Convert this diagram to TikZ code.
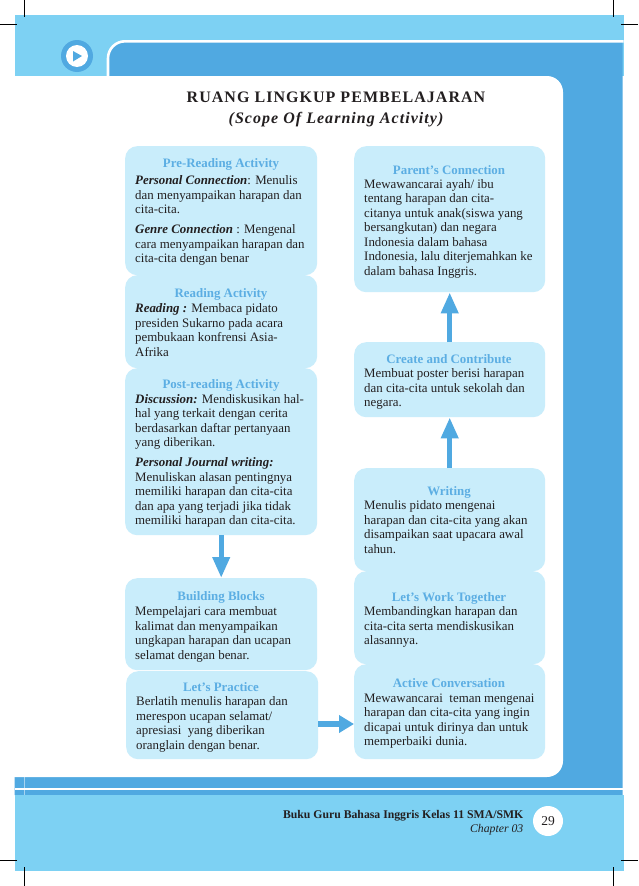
\documentclass[tikz,border=0pt]{standalone}
\usepackage{fontspec}
\setmainfont{Liberation Serif}
\usetikzlibrary{arrows.meta}
\definecolor{bandlight}{HTML}{7DD1F3}
\definecolor{bandblue}{HTML}{50A9E1}
\definecolor{boxfill}{HTML}{C9EDFB}
\definecolor{headblue}{HTML}{5CAEE3}
\definecolor{inktext}{HTML}{231F20}
\tikzset{
  x=1pt,y=-1pt,
  card/.style={fill=boxfill,rounded corners=12pt,inner sep=0pt,anchor=north west},
  head/.style={text=headblue,font=\fontsize{12.9}{15}\selectfont\bfseries,anchor=base,inner sep=0pt},
  body/.style={text=inktext,font=\fontsize{12.9}{14.5}\selectfont,anchor=north west,align=left,inner sep=0pt},
  flow/.style={draw=bandblue,line width=5.3pt,-{Triangle[length=21pt,width=16.5pt]}},
  flowshort/.style={draw=bandblue,line width=5.3pt,-{Triangle[length=15pt,width=17pt]}},
  crop/.style={draw=black,line width=0.6pt}
}
\begin{document}
\begin{tikzpicture}
\useasboundingbox (0,0) rectangle (638,886);
\fill[white] (0,0) rectangle (638,886);
% bands
\fill[bandlight] (14.5,14.5) rectangle (623.5,76);
\fill[bandblue] (108,76) [rounded corners=17pt] -- (108,41.5) [sharp corners] -- (622.5,41.5) -- (622.5,795) -- (14.5,795) -- (14.5,776.5) -- (108,776.5) -- cycle;
\draw[white,line width=2.6pt] (108,76) [rounded corners=17pt] -- (108,41.3) [sharp corners] -- (623.5,41.3);
\fill[white] (0,76) [rounded corners=16pt] -- (563,76) -- (563,777) [sharp corners] -- (0,777) -- cycle;
\fill[bandlight] (14.5,795) rectangle (623.5,870.7);
\fill[white] (14.5,787.8) rectangle (622.5,789.8);
\fill[white,opacity=.5] (24.2,777) rectangle (25,795);
% crop marks
\draw[crop] (24.5,0) -- (24.5,16.5);
\draw[crop] (0,24.3) -- (17,24.3);
\draw[crop] (613.3,0) -- (613.3,17);
\draw[crop] (621,24.3) -- (638,24.3);
\draw[crop] (0,860) -- (17,860);
\draw[crop] (24.5,867) -- (24.5,886);
\draw[crop] (621,860) -- (638,860);
\draw[crop] (613.3,867) -- (613.3,886);
% play badge
\node[circle,fill=bandblue,minimum size=32pt,inner sep=0pt] (badge) at (77,56) {};
\node[circle,fill=white,minimum size=22pt,inner sep=0pt] (badgein) at (77,56) {};
\fill[bandblue] (73,51) -- (82,56) -- (73,61.5) -- cycle;
% title
\node[anchor=base,inner sep=0pt,text=inktext,font=\fontsize{16}{18}\selectfont\bfseries\addfontfeature{LetterSpace=6.5}] (title) at (336,102.5) {RUANG LINGKUP PEMBELAJARAN};
\node[anchor=base,inner sep=0pt,text=inktext,font=\fontsize{16}{18}\selectfont\bfseries\itshape\addfontfeature{LetterSpace=6.5}] (subtitle) at (336,123.5) {(Scope Of Learning Activity)};
% left cards
\node[card,minimum width=192pt,minimum height=129pt] (pre) at (125,146) {};
\node[card,minimum width=192pt,minimum height=93pt] (read) at (125,275) {};
\node[card,minimum width=192pt,minimum height=167pt] (post) at (125,368) {};
\node[card,minimum width=192pt,minimum height=92pt] (build) at (125,578) {};
\node[card,minimum width=192pt,minimum height=88pt] (prac) at (126,671) {};
% right cards
\node[card,minimum width=191pt,minimum height=146pt] (parent) at (354,146) {};
\node[card,minimum width=191pt,minimum height=75pt] (create) at (354,342) {};
\node[card,minimum width=191pt,minimum height=103pt] (writing) at (354,468) {};
\node[card,minimum width=191pt,minimum height=93pt] (work) at (354,571) {};
\node[card,minimum width=191pt,minimum height=95pt] (active) at (354,664) {};
% headings
\node[head] (h1) at (221,167) {Pre-Reading Activity};
\node[head] (h2) at (221,297) {Reading Activity};
\node[head] (h3) at (221,388) {Post-reading Activity};
\node[head] (h4) at (221,600) {Building Blocks};
\node[head] (h5) at (221,691) {Let’s Practice};
\node[head] (h6) at (449,174) {Parent’s Connection};
\node[head] (h7) at (449,363) {Create and Contribute};
\node[head] (h8) at (449,495) {Writing};
\node[head] (h9) at (449,601) {Let’s Work Together};
\node[head] (h10) at (449,687) {Active Conversation};
% bodies
\node[body] (b1) at (135,175.5) {\textbf{\textit{Personal Connection}}: Menulis\\dan menyampaikan harapan dan\\cita-cita.\\[5.5pt]\textbf{\textit{Genre Connection}} : Mengenal\\cara menyampaikan harapan dan\\cita-cita dengan benar};
\node[body] (b2) at (135,303.5) {\textbf{\textit{Reading :}} Membaca pidato\\presiden Sukarno pada acara\\pembukaan konfrensi Asia-\\Afrika};
\node[body] (b3) at (135,394) {\textbf{\textit{Discussion:}} Mendiskusikan hal-\\hal yang terkait dengan cerita\\berdasarkan daftar pertanyaan\\yang diberikan.\\[5.5pt]\textbf{\textit{Personal Journal writing:}}\\Menuliskan alasan pentingnya\\memiliki harapan dan cita-cita\\dan apa yang terjadi jika tidak\\memiliki harapan dan cita-cita.};
\node[body] (b4) at (135,606.5) {Mempelajari cara membuat\\kalimat dan menyampaikan\\ungkapan harapan dan ucapan\\selamat dengan benar.};
\node[body] (b5) at (136,696.5) {Berlatih menulis harapan dan\\merespon ucapan selamat/\\apresiasi\ \ yang diberikan\\oranglain dengan benar.};
\node[body] (b6) at (364,179) {Mewawancarai ayah/ ibu\\tentang harapan dan cita-\\citanya untuk anak(siswa yang\\bersangkutan) dan negara\\Indonesia dalam bahasa\\Indonesia, lalu diterjemahkan ke\\dalam bahasa Inggris.};
\node[body] (b7) at (364,368.5) {Membuat poster berisi harapan\\dan cita-cita untuk sekolah dan\\negara.};
\node[body] (b8) at (364,500.5) {Menulis pidato mengenai\\harapan dan cita-cita yang akan\\disampaikan saat upacara awal\\tahun.};
\node[body] (b9) at (364,606.5) {Membandingkan harapan dan\\cita-cita serta mendiskusikan\\alasannya.};
\node[body] (b10) at (364,693.5) {Mewawancarai\ \ teman mengenai\\harapan dan cita-cita yang ingin\\dicapai untuk dirinya dan untuk\\memperbaiki dunia.};
% arrows
\draw[flow] (post.south) -- (build.north);
\draw[flowshort] (prac.east |- 0,724) -- (active.west |- 0,724);
\draw[flow] (writing.north) -- (create.south);
\draw[flow] (create.north) -- (parent.south);
% footer
\node[anchor=base east,inner sep=0pt,text=inktext,font=\fontsize{11.75}{14}\selectfont\bfseries] (foot1) at (523.5,818) {Buku Guru Bahasa Inggris Kelas 11 SMA/SMK};
\node[anchor=base east,inner sep=0pt,text=inktext,font=\fontsize{11.75}{14}\selectfont\itshape] (foot2) at (523.5,832) {Chapter 03};
\node[circle,fill=white,minimum size=30pt,inner sep=0pt,text=inktext,font=\fontsize{13.5}{15}\selectfont] (pagenum) at (548,821) {29};
\end{tikzpicture}
\end{document}
